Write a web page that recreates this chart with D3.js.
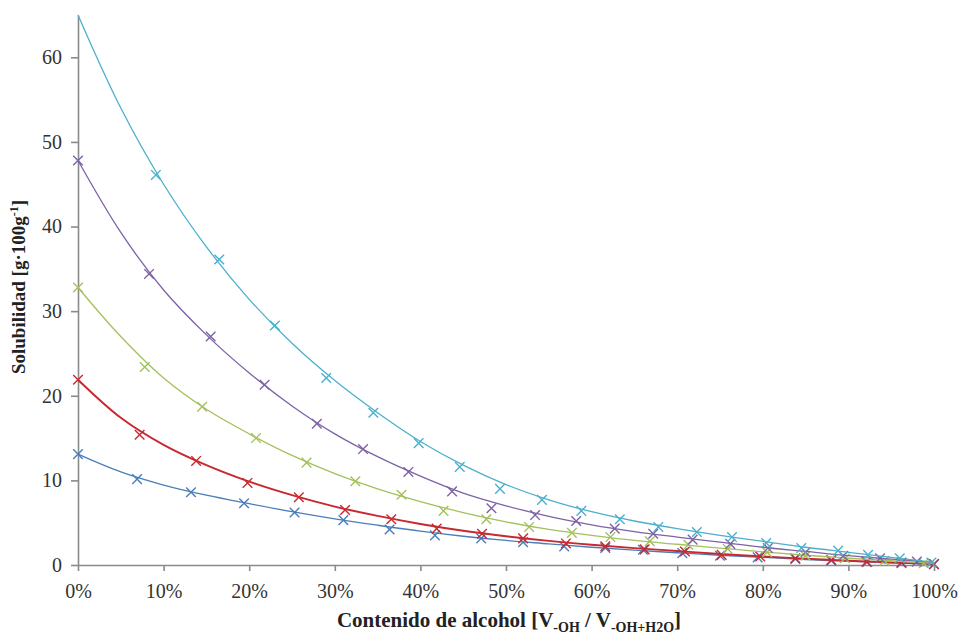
<!DOCTYPE html>
<html>
<head>
<meta charset="utf-8">
<script src="https://cdn.jsdelivr.net/npm/d3@7"></script>
<style>
  body { margin: 0; background: #fff; }
  svg { display: block; }
  .axis path, .axis line { stroke: #8a8a8a; stroke-width: 1.6; }
  .axis text { font-family: "Liberation Serif", "Times New Roman", "DejaVu Serif", serif; font-size: 20px; fill: #333; }
  .axisTitle { font-family: "Liberation Serif", "Times New Roman", "DejaVu Serif", serif; font-weight: bold; fill: #222; }
</style>
</head>
<body>
<script>
//data (x in % of alcohol, y in g/100g)
//measured points (x markers)
var cyanX = [9.1, 16.5, 23.0, 29.0, 34.5, 39.8, 44.6, 49.3, 54.2, 58.8, 63.3, 67.8, 72.3, 76.4, 80.4, 84.5, 88.8, 92.3, 96.0, 99.7];
var cyanY = [46.1, 36.1, 28.3, 22.1, 18.0, 14.4, 11.6, 9.0, 7.7, 6.4, 5.4, 4.5, 3.9, 3.3, 2.6, 2.0, 1.7, 1.2, 0.8, 0.3];

var purpleX = [0, 8.3, 15.5, 21.8, 27.9, 33.3, 38.6, 43.7, 48.3, 53.4, 58.2, 62.7, 67.2, 71.8, 76.2, 80.6, 85.0, 89.4, 93.7, 98.0];
var purpleY = [47.8, 34.4, 27.0, 21.3, 16.7, 13.7, 11.0, 8.7, 6.7, 5.9, 5.2, 4.3, 3.7, 3.0, 2.5, 2.0, 1.5, 1.1, 0.8, 0.4];

var greenX = [0, 7.8, 14.5, 20.8, 26.7, 32.4, 37.8, 42.7, 47.7, 52.7, 57.7, 62.2, 66.8, 71.3, 75.9, 80.5, 85.0, 89.6, 94.2, 98.8];
var greenY = [32.8, 23.4, 18.7, 15.0, 12.1, 9.9, 8.3, 6.4, 5.4, 4.5, 3.8, 3.3, 2.8, 2.4, 1.9, 1.5, 1.1, 0.8, 0.5, 0.2];

var redX = [0, 7.2, 13.8, 19.8, 25.8, 31.2, 36.6, 41.9, 47.2, 52.0, 57.0, 61.6, 66.2, 70.9, 75.2, 79.7, 83.8, 88.0, 92.1, 96.2, 100];
var redY = [21.9, 15.4, 12.3, 9.7, 8.0, 6.5, 5.4, 4.3, 3.7, 3.15, 2.55, 2.2, 1.85, 1.6, 1.2, 1.0, 0.8, 0.6, 0.4, 0.3, 0.1];

var blueX = [0, 6.9, 13.2, 19.4, 25.3, 31.0, 36.4, 41.7, 47.1, 52.0, 56.8, 61.6, 66.0, 70.6, 75.0, 79.4, 83.8, 88.0, 92.2, 96.2, 100];
var blueY = [13.1, 10.15, 8.6, 7.3, 6.2, 5.3, 4.2, 3.5, 3.15, 2.7, 2.2, 2.0, 1.8, 1.4, 1.1, 0.9, 0.7, 0.5, 0.35, 0.2, 0.1];

//trend curves, every 5%
var curveX = [0, 5, 10, 15, 20, 25, 30, 35, 40, 45, 50, 55, 60, 65, 70, 75, 80, 85, 90, 95, 100];
var cyanCurve = [65, 54.0, 45.0, 37.6, 31.4, 26.2, 21.8, 18.0, 14.6, 11.8, 9.5, 7.7, 6.3, 5.2, 4.3, 3.5, 2.8, 2.1, 1.5, 0.9, 0.3];
var purpleCurve = [47.8, 39.3, 32.5, 27.2, 22.7, 18.8, 15.5, 12.8, 10.5, 8.5, 7.0, 5.75, 4.75, 3.95, 3.3, 2.7, 2.1, 1.6, 1.1, 0.7, 0.3];
var greenCurve = [32.8, 27.0, 22.1, 18.4, 15.5, 12.95, 10.8, 9.0, 7.5, 6.2, 5.1, 4.2, 3.5, 2.9, 2.45, 2.0, 1.55, 1.15, 0.8, 0.5, 0.2];
var redCurve = [21.9, 17.4, 14.2, 11.8, 9.85, 8.25, 6.9, 5.8, 4.85, 4.05, 3.4, 2.85, 2.4, 2.0, 1.65, 1.3, 1.0, 0.75, 0.5, 0.3, 0.1];
var blueCurve = [13.1, 11.0, 9.45, 8.25, 7.25, 6.3, 5.45, 4.7, 4.0, 3.4, 2.9, 2.5, 2.1, 1.75, 1.45, 1.15, 0.9, 0.65, 0.45, 0.25, 0.1];

var xTicks = [0, 10, 20, 30, 40, 50, 60, 70, 80, 90, 100];
var yTicks = [0, 10, 20, 30, 40, 50, 60];

//svg
var width = 964, height = 635;
var svg = d3.select("body").append("svg")
    .attr("width", width)
    .attr("height", height);

var x = d3.scaleLinear().domain([0, 100]).range([78, 934]);
var y = d3.scaleLinear().domain([0, 65]).range([565, 15]);

//axes
var yAxis = d3.axisLeft(y)
    .tickValues(yTicks)
    .tickSize(7)
    .tickPadding(9)
    .tickSizeOuter(0);
svg.append("g")
    .attr("class", "axis")
    .attr("transform", "translate(78,0)")
    .call(yAxis);

var xAxis = d3.axisBottom(x)
    .tickValues(xTicks)
    .tickSize(6)
    .tickPadding(13)
    .tickSizeOuter(0)
    .tickFormat(function(d){ return d + "%"; });
svg.append("g")
    .attr("class", "axis")
    .attr("transform", "translate(0,565)")
    .call(xAxis);

//series, drawn back to front
var series = [
    {xs: blueX, ys: blueY, curve: blueCurve, color: "#4a7ebb", w: 1.3},
    {xs: redX, ys: redY, curve: redCurve, color: "#c8282e", w: 1.9},
    {xs: greenX, ys: greenY, curve: greenCurve, color: "#a3c15c", w: 1.3},
    {xs: purpleX, ys: purpleY, curve: purpleCurve, color: "#7d62a6", w: 1.3},
    {xs: cyanX, ys: cyanY, curve: cyanCurve, color: "#4cb0cc", w: 1.3}
];

var line = d3.line()
    .x(function(d){ return x(d[0]); })
    .y(function(d){ return y(d[1]); })
    .curve(d3.curveCatmullRom.alpha(0.5));

series.forEach(function(s){
    var pts = s.xs.map(function(v, i){ return [v, s.ys[i]]; });
    var linePts = curveX.map(function(v, i){ return [v, s.curve[i]]; });

    svg.append("path")
        .datum(linePts)
        .attr("fill", "none")
        .attr("stroke", s.color)
        .attr("stroke-width", s.w)
        .attr("d", line);

    //x markers
    var r = 4.8;
    svg.selectAll(null)
        .data(pts)
        .enter()
        .append("path")
        .attr("fill", "none")
        .attr("stroke", s.color)
        .attr("stroke-width", 1.4)
        .attr("d", function(d){
            var cx = x(d[0]), cy = y(d[1]);
            return "M" + (cx - r) + "," + (cy - r) + "L" + (cx + r) + "," + (cy + r) +
                   "M" + (cx - r) + "," + (cy + r) + "L" + (cx + r) + "," + (cy - r);
        });
});

//axis titles
svg.append("text")
    .attr("class", "axisTitle")
    .attr("transform", "translate(25,287) rotate(-90)")
    .attr("text-anchor", "middle")
    .style("font-size", "19px")
    .call(function(t){
        t.append("tspan").text("Solubilidad [g·100g");
        t.append("tspan").attr("dy", -7).style("font-size", "12px").text("-1");
        t.append("tspan").attr("dy", 7).text("]");
    });

var xt = svg.append("text")
    .attr("class", "axisTitle")
    .attr("x", 509)
    .attr("y", 627)
    .attr("text-anchor", "middle")
    .style("font-size", "21px");
xt.append("tspan").text("Contenido de alcohol [V");
xt.append("tspan").attr("dy", 5).style("font-size", "14px").text("-OH");
xt.append("tspan").attr("dy", -5).text(" / V");
xt.append("tspan").attr("dy", 5).style("font-size", "14px").text("-OH+H2O");
xt.append("tspan").attr("dy", -5).text("]");
</script>
</body>
</html>
